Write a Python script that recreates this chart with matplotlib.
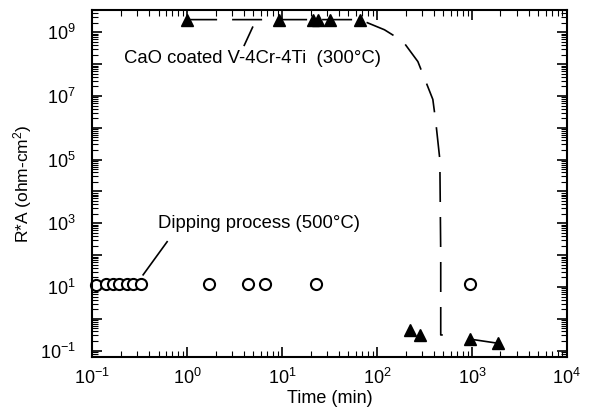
import math
import matplotlib
matplotlib.use("Agg")
import matplotlib.pyplot as plt
from matplotlib.ticker import FixedLocator, LogLocator, FuncFormatter, NullFormatter

plt.rcParams['font.family'] = ['Liberation Sans', 'DejaVu Sans']
plt.rcParams['mathtext.fontset'] = 'custom'
plt.rcParams['mathtext.rm'] = 'Liberation Sans'
plt.rcParams['mathtext.it'] = 'Liberation Sans:italic'
plt.rcParams['mathtext.bf'] = 'Liberation Sans:bold'

# dipping process (500C) - open circles
dip_t = [0.11, 0.14, 0.165, 0.19, 0.23, 0.27, 0.33, 1.7, 4.4, 6.6, 23, 950]
dip_ra = [11.5, 12, 12, 12, 12, 12, 12, 12, 12, 12, 12, 12]

# CaO coated V-4Cr-4Ti (300C) - filled triangles
cao_t = [1.0, 9.2, 21, 24, 32, 66, 222, 283, 950, 1880]
cao_ra = [2.5e9, 2.5e9, 2.5e9, 2.5e9, 2.5e9, 2.5e9, 0.45, 0.31, 0.23, 0.17]

# dashed trend line through the coated samples
trend_t = [1.0, 9.2, 21, 32, 66, 120, 188, 270, 388, 417, 460, 470, 470, 520]
trend_ra = [2.5e9, 2.5e9, 2.5e9, 2.5e9, 2.5e9, 1.2e9, 5.2e8, 1.2e8, 7.8e6, 1.5e6, 1e5, 1e2, 0.31, 0.31]

# short solid segment between the last two triangles
tail_t = [950, 1880]
tail_ra = [0.23, 0.17]

x_major = [0.1, 1, 10, 100, 1000, 10000]
y_major = [10.0 ** e for e in range(-1, 10)]

fig = plt.figure(figsize=(5.91, 4.17), dpi=100)
ax = fig.add_axes([0.156, 0.144, 0.803, 0.832])

ax.plot(trend_t, trend_ra, color='black', lw=1.2, linestyle=(0, (18, 9)))
ax.plot(tail_t, tail_ra, color='black', lw=1.2)
ax.plot(cao_t, cao_ra, linestyle='none', marker='^', ms=8.5, color='black')
ax.plot(dip_t, dip_ra, linestyle='none', marker='o', ms=8, mfc='white',
        mec='black', mew=1.5, clip_on=False)

ax.set_xscale('log')
ax.set_yscale('log')
ax.set_xlim(0.1, 1e4)
ax.set_ylim(10 ** -1.2, 10 ** 9.7)

ax.xaxis.set_major_locator(FixedLocator(x_major))
ax.yaxis.set_major_locator(FixedLocator(y_major))
ax.xaxis.set_minor_locator(LogLocator(base=10, subs=range(2, 10), numticks=20))
ax.yaxis.set_minor_locator(LogLocator(base=10, subs=range(2, 10), numticks=20))


def ylab(v, pos):
    e = int(round(math.log10(v)))
    if e % 2 == 0:
        return ''
    return r'$10^{%d}$' % e


def xlab(v, pos):
    e = int(round(math.log10(v)))
    return r'$10^{%d}$' % e


ax.yaxis.set_major_formatter(FuncFormatter(ylab))
ax.xaxis.set_major_formatter(FuncFormatter(xlab))
ax.xaxis.set_minor_formatter(NullFormatter())
ax.yaxis.set_minor_formatter(NullFormatter())

ax.tick_params(which='both', direction='in', top=True, right=True, labelsize=13)
ax.tick_params(which='major', length=7, width=1.2)
ax.tick_params(which='minor', length=4, width=0.8)
ax.tick_params(axis='x', pad=8)
ax.tick_params(axis='y', pad=12)
for s in ax.spines.values():
    s.set_linewidth(1.5)

ax.set_xlabel('Time (min)', fontsize=13, labelpad=1)
ax.set_ylabel('R*A (ohm-cm$^2$)', fontsize=12.5, labelpad=4)

ax.text(0.217, 10 ** 8.45, 'CaO coated V-4Cr-4Ti  (300°C)', fontsize=13.3, va='top')
ax.plot([4.0, 4.9], [10 ** 8.59, 10 ** 9.16], color='black', lw=1.2)
ax.text(0.495, 10 ** 2.98, 'Dipping process (500°C)', fontsize=13.3, va='center')
ax.plot([0.344, 0.616], [24, 263], color='black', lw=1.2)

fig.savefig('out.png', dpi=100)
